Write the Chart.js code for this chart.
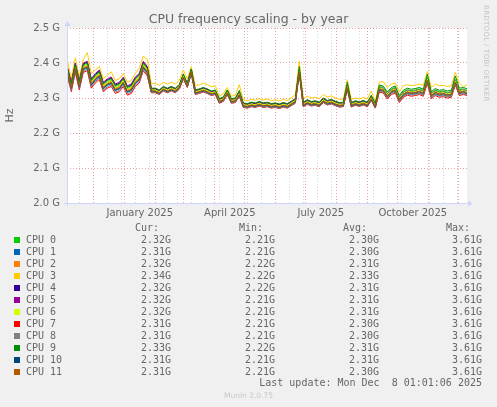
<!DOCTYPE html>
<html>
<head>
<meta charset="utf-8">
<script src="https://cdn.jsdelivr.net/npm/chart.js"></script>
<style>
  body { margin: 0; background: #f0f0f0; }
  #wrap { position: relative; width: 497px; height: 407px; overflow: hidden; font-family: 'DejaVu Sans', sans-serif; color: #666; }
  #chart { position: absolute; left: 0; top: 0; }
  .abs { position: absolute; white-space: pre; }
  .mono { font-family: 'DejaVu Sans Mono', monospace; font-size: 10px; line-height: 12px; }
  .swatch { position: absolute; width: 6px; height: 6px; }
  #title { left: 0; width: 497px; top: 11px; text-align: center; font-size: 12.5px; line-height: 16px; }
  #rrd { left: 482px; top: 5px; writing-mode: vertical-rl; font-size: 7px; color: #c4c4c4; letter-spacing: 0.3px; }
  #munin { left: 0; width: 497px; top: 391px; text-align: center; font-size: 7.5px; line-height: 10px; color: #c8c8c8; }
</style>
</head>
<body>
<div id="wrap">
  <canvas id="chart" width="497" height="407"></canvas>
  <div id="title" class="abs">CPU frequency scaling - by year</div>
  <div id="rrd" class="abs">RRDTOOL / TOBI OETIKER</div>
  <div id="legend"></div>
  <div id="munin" class="abs">Munin 2.0.75</div>
</div>
<script>
// x positions are days relative to 1 Jan 2025, one sample every 4 days
const firstDay = -57;
const stepDays = 4;

const cpuNames = ['CPU 0', 'CPU 1', 'CPU 2', 'CPU 3', 'CPU 4', 'CPU 5', 'CPU 6', 'CPU 7', 'CPU 8', 'CPU 9', 'CPU 10', 'CPU 11'];
const cpuColors = ['#00CC00', '#0066B3', '#FF8000', '#FFCC00', '#330099', '#990099', '#CCFF00', '#FF0000', '#808080', '#008F00', '#00487D', '#B35A00'];

// values in MHz
const cpu0 = [2381,2336,2391,2341,2391,2396,2346,2361,2371,2336,2346,2351,2331,2336,2351,2326,2331,2351,2361,2396,2381,
  2324,2324,2319,2329,2324,2329,2324,2334,2364,2339,2379,2319,2322,2326,2322,2316,2319,2294,2299,2319,2294,
  2296,2314,2282,2280,2284,2282,2286,2282,2284,2280,2282,2279,2283,2280,2287,2294,2379,2284,2291,2286,
  2288,2284,2296,2289,2292,2287,2283,2284,2334,2283,2288,2285,2289,2284,2302,2280,
  2333,2330,2313,2326,2330,2303,2318,2324,2321,2323,2326,2321,2358,2314,2323,2318,2320,2316,2318,2353,2323,2326,2321];
const cpu1 = [2371,2326,2381,2331,2381,2386,2336,2351,2361,2326,2336,2341,2321,2326,2341,2316,2321,2341,2351,2386,2371,
  2317,2317,2312,2322,2317,2322,2317,2327,2357,2332,2372,2312,2315,2319,2315,2309,2312,2287,2292,2312,2287,
  2289,2307,2275,2273,2277,2275,2279,2275,2277,2273,2275,2272,2276,2273,2280,2287,2372,2277,2284,2279,
  2281,2277,2289,2282,2285,2280,2276,2277,2327,2276,2281,2278,2282,2277,2295,2273,
  2322,2319,2302,2315,2319,2292,2307,2313,2310,2312,2315,2310,2347,2303,2312,2307,2309,2305,2307,2342,2312,2315,2310];
const cpu2 = [2378,2333,2388,2338,2388,2393,2343,2358,2368,2333,2343,2348,2328,2333,2348,2323,2328,2348,2358,2393,2378,
  2322,2322,2317,2327,2322,2327,2322,2332,2362,2337,2377,2317,2320,2324,2320,2314,2317,2292,2297,2317,2292,
  2294,2312,2280,2278,2282,2280,2284,2280,2282,2278,2280,2277,2281,2278,2285,2292,2377,2282,2289,2284,
  2286,2282,2294,2287,2290,2285,2281,2282,2332,2281,2286,2283,2287,2282,2300,2278,
  2327,2324,2307,2320,2324,2297,2312,2318,2315,2317,2320,2315,2352,2308,2317,2312,2314,2310,2312,2347,2317,2320,2318];
const cpu3 = [2410,2355,2415,2360,2410,2430,2370,2380,2390,2355,2365,2375,2350,2355,2370,2345,2350,2370,2385,2420,2410,
  2340,2342,2336,2345,2340,2345,2340,2350,2380,2355,2390,2335,2338,2342,2338,2332,2335,2305,2312,2330,2305,
  2308,2338,2295,2292,2296,2294,2298,2294,2297,2292,2295,2291,2296,2293,2300,2310,2405,2298,2305,2300,
  2302,2298,2310,2303,2306,2300,2296,2297,2352,2296,2300,2297,2302,2297,2319,2290,
  2345,2347,2330,2340,2343,2318,2335,2338,2335,2337,2340,2336,2376,2330,2340,2335,2336,2333,2335,2373,2343,2332,2338];
const cpu4 = [2387,2342,2397,2347,2397,2402,2352,2367,2377,2342,2352,2357,2337,2342,2357,2332,2337,2357,2367,2402,2387,
  2326,2326,2321,2331,2326,2331,2326,2336,2366,2341,2381,2321,2324,2328,2324,2318,2321,2296,2301,2321,2296,
  2298,2316,2284,2282,2286,2284,2288,2284,2286,2282,2284,2281,2285,2282,2289,2296,2381,2286,2293,2288,
  2290,2286,2298,2291,2294,2289,2285,2286,2336,2285,2290,2287,2291,2286,2304,2282,
  2329,2326,2309,2322,2326,2299,2314,2320,2317,2319,2322,2317,2354,2310,2319,2314,2316,2312,2314,2349,2319,2322,2317];
const cpu5 = [2390,2345,2400,2350,2400,2405,2355,2370,2380,2345,2355,2360,2340,2345,2360,2335,2340,2360,2370,2405,2390,
  2327,2327,2322,2332,2327,2332,2327,2337,2367,2342,2382,2322,2325,2329,2325,2319,2322,2297,2302,2322,2297,
  2299,2317,2285,2283,2287,2285,2289,2285,2287,2283,2285,2282,2286,2283,2290,2297,2382,2287,2294,2289,
  2291,2287,2299,2292,2295,2290,2286,2287,2337,2286,2291,2288,2292,2287,2305,2283,
  2330,2327,2310,2323,2327,2300,2315,2321,2318,2320,2323,2318,2355,2311,2320,2315,2317,2313,2315,2350,2320,2323,2318];
const cpu6 = [2380,2335,2390,2340,2390,2395,2345,2360,2370,2335,2345,2350,2330,2335,2350,2325,2330,2350,2360,2395,2380,
  2323,2323,2318,2328,2323,2328,2323,2333,2363,2338,2378,2318,2321,2325,2321,2315,2318,2293,2298,2318,2293,
  2295,2313,2281,2279,2283,2281,2285,2281,2283,2279,2281,2278,2282,2279,2286,2293,2378,2283,2290,2285,
  2287,2283,2295,2288,2291,2286,2282,2283,2333,2282,2287,2284,2288,2283,2301,2279,
  2329,2326,2309,2322,2326,2299,2314,2320,2317,2319,2322,2317,2354,2310,2319,2314,2316,2312,2314,2349,2319,2322,2317];
const cpu7 = [2363,2318,2373,2323,2373,2378,2328,2343,2353,2318,2328,2333,2313,2318,2333,2308,2313,2333,2343,2378,2363,
  2315,2315,2310,2320,2315,2320,2315,2325,2355,2330,2370,2310,2313,2317,2313,2307,2310,2285,2290,2310,2285,
  2287,2305,2273,2271,2275,2273,2277,2273,2275,2271,2273,2270,2274,2271,2278,2285,2370,2275,2282,2277,
  2279,2275,2287,2280,2283,2278,2274,2275,2325,2274,2279,2276,2280,2275,2293,2271,
  2317,2314,2297,2310,2314,2287,2302,2308,2305,2307,2310,2305,2342,2298,2307,2302,2304,2300,2302,2337,2307,2310,2307];
const cpu8 = [2367,2322,2377,2327,2377,2382,2332,2347,2357,2322,2332,2337,2317,2322,2337,2312,2317,2337,2347,2382,2367,
  2316,2316,2311,2321,2316,2321,2316,2326,2356,2331,2371,2311,2314,2318,2314,2308,2311,2286,2291,2311,2286,
  2288,2306,2274,2272,2276,2274,2278,2274,2276,2272,2274,2271,2275,2272,2279,2286,2371,2276,2283,2278,
  2280,2276,2288,2281,2284,2279,2275,2276,2326,2275,2280,2277,2281,2276,2294,2272,
  2320,2317,2300,2313,2317,2290,2305,2311,2308,2310,2313,2308,2345,2301,2310,2305,2307,2303,2305,2340,2310,2313,2308];
const cpu9 = [2385,2340,2395,2345,2395,2400,2350,2365,2375,2340,2350,2355,2335,2340,2355,2330,2335,2355,2365,2400,2385,
  2328,2328,2323,2333,2328,2333,2328,2338,2368,2343,2383,2323,2326,2330,2326,2320,2323,2298,2303,2323,2298,
  2300,2322,2286,2284,2288,2286,2290,2286,2288,2284,2286,2283,2287,2284,2291,2298,2390,2288,2295,2290,
  2292,2288,2300,2293,2296,2291,2287,2288,2345,2287,2292,2289,2293,2288,2308,2284,
  2337,2334,2317,2330,2334,2307,2322,2328,2325,2327,2330,2325,2368,2318,2327,2322,2324,2320,2322,2363,2328,2330,2326];
const cpu10 = [2373,2328,2383,2333,2383,2388,2338,2353,2363,2328,2338,2343,2323,2328,2343,2318,2323,2343,2353,2388,2373,
  2319,2319,2314,2324,2319,2324,2319,2329,2359,2334,2374,2314,2317,2321,2317,2311,2314,2289,2294,2314,2289,
  2291,2309,2277,2275,2279,2277,2281,2277,2279,2275,2277,2274,2278,2275,2282,2289,2374,2279,2286,2281,
  2283,2279,2291,2284,2287,2282,2278,2279,2329,2278,2283,2280,2284,2279,2297,2275,
  2325,2322,2305,2318,2322,2295,2310,2316,2313,2315,2318,2313,2350,2306,2315,2310,2312,2308,2310,2345,2315,2318,2313];
const cpu11 = [2375,2330,2385,2335,2385,2390,2340,2355,2365,2330,2340,2345,2325,2330,2345,2320,2325,2345,2355,2390,2375,
  2320,2320,2315,2325,2320,2325,2320,2330,2360,2335,2375,2315,2318,2322,2318,2312,2315,2290,2295,2315,2290,
  2292,2310,2278,2276,2280,2278,2282,2278,2280,2276,2278,2275,2279,2276,2283,2290,2375,2280,2287,2282,
  2284,2280,2292,2285,2288,2283,2279,2280,2330,2279,2284,2281,2285,2280,2298,2276,
  2325,2322,2305,2318,2322,2295,2310,2316,2313,2315,2318,2313,2350,2306,2315,2310,2312,2308,2310,2345,2315,2318,2313];

const curValues = ['2.32G', '2.31G', '2.32G', '2.34G', '2.32G', '2.32G', '2.32G', '2.31G', '2.31G', '2.33G', '2.31G', '2.31G'];
const minValues = ['2.21G', '2.21G', '2.22G', '2.22G', '2.22G', '2.21G', '2.21G', '2.21G', '2.21G', '2.22G', '2.21G', '2.21G'];
const avgValues = ['2.30G', '2.30G', '2.31G', '2.33G', '2.31G', '2.31G', '2.31G', '2.30G', '2.30G', '2.31G', '2.31G', '2.30G'];
const maxValues = ['3.61G', '3.61G', '3.61G', '3.61G', '3.61G', '3.61G', '3.61G', '3.61G', '3.61G', '3.61G', '3.61G', '3.61G'];

const yTicks = [2000, 2100, 2200, 2300, 2400, 2500];
const yTickLabels = ['2.0 G', '2.1 G', '2.2 G', '2.3 G', '2.4 G', '2.5 G'];
const monthStartDays = [-31, 0, 31, 59, 90, 120, 151, 181, 212, 243, 273, 304, 334];
const weekGridDays = [-45, -17, -3, 11, 25, 39, 53, 67, 81, 95, 109, 123, 137, 165, 179, 193, 207, 221, 235, 249, 263, 277, 291, 305, 319, 333];
const monthLabelDays = [15.5, 105.5, 196.5, 288.5];
const monthLabels = ['January 2025', 'April 2025', 'July 2025', 'October 2025'];
const lastUpdate = 'Last update: Mon Dec  8 01:01:06 2025';

const majorGrid = 'rgba(220, 70, 70, 0.5)';
const minorGrid = 'rgba(160, 160, 160, 0.45)';
const axisColor = '#CFD6F8';

const series = [cpu0, cpu1, cpu2, cpu3, cpu4, cpu5, cpu6, cpu7, cpu8, cpu9, cpu10, cpu11];
const datasets = series.map((vals, i) => ({
  label: cpuNames[i],
  data: vals.map((v, k) => ({ x: firstDay + k * stepDays, y: v })),
  borderColor: cpuColors[i],
  borderWidth: 1,
  pointRadius: 0,
  tension: 0,
  fill: false,
  order: series.length - i
}));

const frame = {
  id: 'frame',
  beforeDraw(chart) {
    const { ctx, chartArea: a } = chart;
    ctx.save();
    ctx.fillStyle = '#ffffff';
    ctx.fillRect(a.left, a.top, a.right - a.left, a.bottom - a.top);
    ctx.restore();
  },
  afterDraw(chart) {
    const { ctx, chartArea: a } = chart;
    ctx.save();
    ctx.strokeStyle = axisColor;
    ctx.fillStyle = axisColor;
    ctx.lineWidth = 1;
    ctx.beginPath();
    ctx.moveTo(a.left - 3, a.bottom + 0.5);
    ctx.lineTo(a.right + 2, a.bottom + 0.5);
    ctx.moveTo(a.left + 0.5, a.bottom + 3);
    ctx.lineTo(a.left + 0.5, a.top - 2);
    ctx.stroke();
    ctx.beginPath();
    ctx.moveTo(a.right + 6, a.bottom + 0.5);
    ctx.lineTo(a.right + 1, a.bottom - 2.5);
    ctx.lineTo(a.right + 1, a.bottom + 3.5);
    ctx.fill();
    ctx.beginPath();
    ctx.moveTo(a.left + 0.5, a.top - 7);
    ctx.lineTo(a.left - 2.5, a.top - 2);
    ctx.lineTo(a.left + 3.5, a.top - 2);
    ctx.fill();
    ctx.restore();
  }
};

Chart.defaults.font.family = "'DejaVu Sans', sans-serif";
Chart.defaults.color = '#666';

new Chart(document.getElementById('chart'), {
  type: 'line',
  data: { datasets },
  plugins: [frame],
  options: {
    responsive: false,
    animation: false,
    layout: { padding: { left: 0, top: 28, right: 30, bottom: 184 } },
    plugins: { legend: { display: false }, tooltip: { enabled: false }, title: { display: false } },
    scales: {
      x: {
        type: 'linear',
        min: -57.3,
        max: 342.7,
        afterBuildTicks: s => {
          const vals = [...new Set([...monthStartDays, ...weekGridDays, ...monthLabelDays])].sort((a, b) => a - b);
          s.ticks = vals.map(v => ({ value: v }));
        },
        afterFit: s => { s.height = 20; },
        grid: {
          drawTicks: false,
          lineWidth: 1,
          borderDash: [1, 2],
          color: c => {
            const v = c.tick ? c.tick.value : null;
            if (monthStartDays.includes(v)) return majorGrid;
            if (weekGridDays.includes(v)) return minorGrid;
            return 'rgba(0,0,0,0)';
          }
        },
        border: { display: false, dash: [1, 2] },
        ticks: {
          autoSkip: false,
          maxRotation: 0,
          minRotation: 0,
          padding: 4,
          font: { size: 10 },
          color: '#666',
          callback: v => {
            const k = monthLabelDays.indexOf(v);
            return k >= 0 ? monthLabels[k] : '';
          }
        }
      },
      y: {
        min: 2000,
        max: 2500,
        afterBuildTicks: s => { s.ticks = yTicks.map(v => ({ value: v })); },
        afterFit: s => { s.width = 67; },
        grid: { drawTicks: false, lineWidth: 1, borderDash: [1, 2], color: majorGrid },
        border: { display: false, dash: [1, 2] },
        ticks: {
          padding: 7,
          font: { size: 10 },
          color: '#666',
          callback: v => yTickLabels[yTicks.indexOf(v)]
        },
        title: { display: true, text: 'Hz', font: { size: 11 }, color: '#666', padding: { top: 4, bottom: 0 } }
      }
    }
  }
});

// legend table below the plot
const legend = document.getElementById('legend');
function addText(txt, top, opts) {
  const d = document.createElement('div');
  d.className = 'abs mono';
  d.textContent = txt;
  d.style.top = top + 'px';
  if (opts.left !== undefined) d.style.left = opts.left + 'px';
  if (opts.right !== undefined) d.style.right = opts.right + 'px';
  legend.appendChild(d);
}
const colRight = [326, 222, 118, 15];
const headRight = [338, 234, 130, 27];
['Cur:', 'Min:', 'Avg:', 'Max:'].forEach((h, j) => addText(h, 222, { right: headRight[j] }));
cpuNames.forEach((name, i) => {
  const top = 234 + i * 12;
  const sw = document.createElement('div');
  sw.className = 'swatch';
  sw.style.left = '14px';
  sw.style.top = (top + 3) + 'px';
  sw.style.background = cpuColors[i];
  legend.appendChild(sw);
  addText(name, top, { left: 26 });
  [curValues, minValues, avgValues, maxValues].forEach((col, j) => addText(col[i], top, { right: colRight[j] }));
});
addText(lastUpdate, 377, { right: 15 });
</script>
</body>
</html>
